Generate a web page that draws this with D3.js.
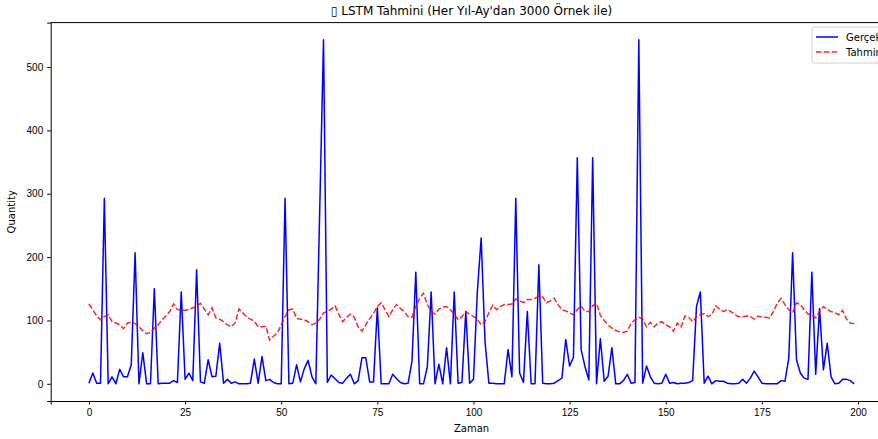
<!DOCTYPE html>
<html>
<head>
<meta charset="utf-8">
<script src="https://cdn.jsdelivr.net/npm/d3@7"></script>
<style>
    body { margin: 0; background: #fff; }
    svg { font-family: "DejaVu Sans", sans-serif; display: block; }
    .tick text { font-size: 10px; fill: #000; }
    .tick line { stroke: #000; }
    .domain { stroke: #000; }
</style>
</head>
<body>
<div id="chart"></div>
<script>
// Values
const titleText = "\u25AF LSTM Tahmini (Her Yıl-Ay'dan 3000 Örnek ile)";
const seriesNames = ["Gerçek", "Tahmin"];
const xTicks = [0, 25, 50, 75, 100, 125, 150, 175, 200];
const yTicks = [0, 100, 200, 300, 400, 500];

const gercek = [
    1, 17, 1, 1, 293, 0, 11, 0, 23, 11, 11, 30, 207, 0, 49, 0, 0, 150, 0, 1,
    1, 1, 5, 2, 145, 7, 17, 5, 180, 3, 1, 38, 11, 12, 64, 1, 7, 1, 3, 0,
    0, 0, 1, 39, 1, 43, 5, 7, 2, 0, 0, 293, 0, 1, 30, 3, 24, 37, 11, 0,
    270, 543, 2, 14, 8, 2, 1, 9, 15, 0, 5, 41, 41, 3, 3, 120, 0, 0, 0, 15,
    8, 2, 0, 1, 35, 176, 0, 0, 27, 145, 0, 31, 0, 57, 0, 145, 1, 2, 114, 1,
    7, 145, 230, 67, 1, 1, 0, 0, 0, 54, 11, 293, 17, 2, 114, 0, 0, 188, 1, 0,
    0, 1, 5, 9, 70, 28, 42, 357, 54, 27, 6, 357, 0, 71, 4, 12, 57, 0, 0, 5,
    15, 1, 2, 543, 1, 28, 11, 1, 0, 1, 15, 1, 2, 0, 1, 1, 2, 5, 122, 145,
    1, 12, 0, 5, 4, 4, 1, 0, 0, 1, 7, 1, 9, 20, 11, 1, 0, 0, 0, 0,
    5, 4, 40, 207, 38, 17, 9, 7, 176, 15, 119, 22, 64, 11, 0, 1, 7, 7, 5, 0
];

const tahmin = [
    126, 117, 107, 101, 106, 109, 98, 96, 93, 87, 96, 97, 95, 90, 84, 79, 81, 88, 93, 101,
    107, 114, 126, 117, 116, 116, 117, 120, 122, 127, 118, 109, 120, 104, 102, 98, 93, 90, 96, 118,
    112, 106, 102, 99, 90, 90, 91, 69, 75, 80, 93, 106, 117, 118, 103, 102, 101, 98, 93, 96,
    102, 112, 114, 118, 123, 109, 98, 105, 110, 105, 90, 83, 93, 103, 111, 122, 128, 117, 106, 117,
    125, 119, 114, 106, 105, 122, 135, 143, 125, 114, 110, 118, 121, 122, 117, 110, 101, 106, 114, 110,
    106, 102, 93, 98, 112, 124, 117, 122, 125, 125, 126, 134, 131, 128, 133, 133, 135, 138, 137, 128,
    131, 135, 125, 117, 115, 112, 109, 117, 123, 114, 114, 123, 127, 108, 100, 93, 88, 84, 82, 81,
    83, 96, 101, 105, 102, 90, 97, 90, 96, 98, 93, 90, 83, 96, 90, 107, 105, 98, 106, 109,
    111, 106, 109, 123, 118, 114, 117, 114, 109, 106, 106, 107, 106, 102, 107, 105, 105, 104, 114, 127,
    135, 125, 117, 112, 128, 125, 117, 110, 109, 104, 114, 122, 117, 114, 112, 109, 116, 102, 96, 95
];

const width = 878, height = 439;
const margin = { top: 22.6, right: -14.4, bottom: 38, left: 50.7 };
const innerW = width - margin.left - margin.right;
const innerH = height - margin.top - margin.bottom;

const svg = d3.select('#chart').append('svg')
    .attr('width', width)
    .attr('height', height);

const g = svg.append('g')
    .attr('transform', `translate(${margin.left},${margin.top})`);

// matplotlib-like 5% margins around the data
const n = gercek.length;
const xPad = (n - 1) * 0.05;
const x = d3.scaleLinear().domain([-xPad, n - 1 + xPad]).range([0, innerW]);
const yMax = d3.max(gercek.concat(tahmin));
const y = d3.scaleLinear().domain([-yMax * 0.05, yMax * 1.05]).range([innerH, 0]);

// Axes
g.append('g')
    .attr('transform', `translate(0,${innerH})`)
    .call(d3.axisBottom(x).tickValues(xTicks).tickSizeOuter(0).tickSize(3.5).tickPadding(4));

g.append('g')
    .call(d3.axisLeft(y).tickValues(yTicks).tickSizeOuter(0).tickSize(3.5).tickPadding(4));

// top spine
g.append('line')
    .attr('x1', 0).attr('x2', innerW)
    .attr('y1', 0).attr('y2', 0)
    .attr('stroke', '#000');

// Lines
const line = (arr) => d3.line()
    .x((d, i) => x(i))
    .y(d => y(d))(arr);

g.append('path')
    .attr('d', line(gercek))
    .attr('fill', 'none')
    .attr('stroke', '#0000ff')
    .attr('stroke-width', 1.5)
    .attr('stroke-linejoin', 'round');

g.append('path')
    .attr('d', line(tahmin))
    .attr('fill', 'none')
    .attr('stroke', '#ff0000')
    .attr('stroke-opacity', 0.85)
    .attr('stroke-width', 1.5)
    .attr('stroke-dasharray', '5.5,2.4');

// Title and labels
svg.append('text')
    .attr('x', margin.left + innerW / 2)
    .attr('y', 15)
    .attr('text-anchor', 'middle')
    .attr('font-size', 12)
    .text(titleText);

svg.append('text')
    .attr('x', margin.left + innerW / 2)
    .attr('y', 432)
    .attr('text-anchor', 'middle')
    .attr('font-size', 10)
    .text('Zaman');

svg.append('text')
    .attr('transform', `translate(15,${margin.top + innerH / 2}) rotate(-90)`)
    .attr('text-anchor', 'middle')
    .attr('font-size', 10)
    .text('Quantity');

// Legend (cut off by the right edge like the reference)
const legend = svg.append('g').attr('transform', 'translate(812,27)');
legend.append('rect')
    .attr('width', 90).attr('height', 36)
    .attr('rx', 2)
    .attr('fill', '#fff')
    .attr('fill-opacity', 0.8)
    .attr('stroke', '#d0d0d0');

const styles = [
    { color: '#0000ff', dash: null, opacity: 1 },
    { color: '#ff0000', dash: '5.5,2.4', opacity: 0.85 }
];
seriesNames.forEach((name, i) => {
    const row = legend.append('g').attr('transform', `translate(0,${10 + i * 15})`);
    row.append('line')
        .attr('x1', 4).attr('x2', 26)
        .attr('stroke', styles[i].color)
        .attr('stroke-opacity', styles[i].opacity)
        .attr('stroke-width', 1.5)
        .attr('stroke-dasharray', styles[i].dash);
    row.append('text')
        .attr('x', 34).attr('y', 3.5)
        .attr('font-size', 10)
        .text(name);
});
</script>
</body>
</html>
